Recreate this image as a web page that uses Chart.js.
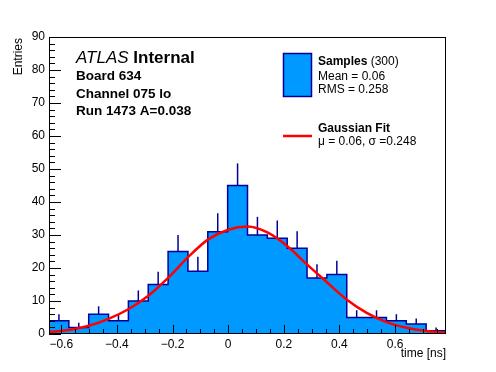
<!DOCTYPE html>
<html>
<head>
<meta charset="utf-8">
<script src="https://cdn.jsdelivr.net/npm/chart.js@4.4.1/dist/chart.umd.min.js"></script>
<style>
  html, body { margin: 0; padding: 0; background: #fff; }
  #wrap { width: 496px; height: 372px; }
</style>
</head>
<body>
<div id="wrap"><canvas id="histo" width="496" height="372"></canvas></div>
<script>
// histogram of the timing residuals, 20 bins
const binLow = -0.644;
const binWidth = 0.07135;
const counts = [4, 2, 6, 4, 10, 15, 25, 19, 31, 45, 30, 29, 26, 17, 18, 5, 5, 4, 3, 1];
const errors = [2, 1.4, 2.4, 2, 3.2, 3.9, 5, 4.4, 5.6, 6.7, 5.5, 5.4, 5.1, 4.1, 4.2, 2.2, 2.2, 2, 1.7, 1];

// gaussian fit curve
const fitX = [-0.644, -0.573, -0.501, -0.430, -0.359, -0.287, -0.216, -0.145, -0.073, 0.0, 0.070,
              0.141, 0.213, 0.284, 0.355, 0.427, 0.498, 0.569, 0.641, 0.712, 0.783];
const fitY = [0.6, 1.2, 2.5, 4.6, 7.5, 11.6, 17.0, 23.2, 28.6, 31.6, 32.6,
              30.8, 26.6, 21.0, 15.7, 10.4, 6.4, 3.6, 1.9, 0.9, 0.4];

const xTicks = [-0.6, -0.4, -0.2, 0, 0.2, 0.4, 0.6];
const yTicks = [0, 10, 20, 30, 40, 50, 60, 70, 80, 90];

const FONT = '"Liberation Sans", Arial, Helvetica, sans-serif';
const fillBlue = '#0099ff';
const lineBlue = '#000099';

const binHigh = binLow + counts.length * binWidth;
const edge = i => binLow + i * binWidth;

// step outline (also filled) of the histogram
const stepPts = [{ x: edge(0), y: 0 }];
counts.forEach((c, i) => stepPts.push({ x: edge(i), y: c }));
stepPts.push({ x: edge(counts.length), y: counts[counts.length - 1] });
stepPts.push({ x: edge(counts.length), y: 0 });

// upward error bars
const errPts = counts.map((c, i) => ({ x: edge(i) + binWidth / 2, y: [c, c + errors[i]] }));

const fitPts = fitX.map((x, i) => ({ x: x, y: fitY[i] }));

const rootFrame = {
    id: 'rootFrame',
    afterDatasetsDraw(chart) {
        const { ctx, chartArea: a, scales: { x, y } } = chart;
        ctx.save();
        ctx.strokeStyle = '#000';
        ctx.lineWidth = 1;
        ctx.beginPath();
        // y ticks, minor every 2, inside the frame
        for (let k = 0; k <= 45; k++) {
            const py = Math.round(y.getPixelForValue(k * 2)) + 0.5;
            const len = k % 5 === 0 ? 12 : 6;
            ctx.moveTo(a.left, py);
            ctx.lineTo(a.left + len, py);
        }
        // x ticks, minor every 0.05
        for (let k = -13; k <= 16; k++) {
            const v = k * 0.05;
            if (v < binLow || v > binHigh) continue;
            const px = Math.round(x.getPixelForValue(v)) + 0.5;
            const len = k % 4 === 0 ? 9 : 5;
            ctx.moveTo(px, a.bottom);
            ctx.lineTo(px, a.bottom - len);
        }
        ctx.stroke();
        ctx.strokeRect(a.left + 0.5, a.top + 0.5, a.right - a.left - 1, a.bottom - a.top - 1);
        ctx.restore();
    },
    afterDraw(chart) {
        const { ctx } = chart;
        ctx.save();
        ctx.fillStyle = '#000';
        ctx.textBaseline = 'alphabetic';

        // axis titles
        ctx.font = '12px ' + FONT;
        ctx.textAlign = 'right';
        ctx.fillText('time [ns]', 446, 357);
        ctx.save();
        ctx.translate(22, 38);
        ctx.rotate(-Math.PI / 2);
        ctx.fillText('Entries', 0, 0);
        ctx.restore();

        // ATLAS label block
        ctx.textAlign = 'left';
        ctx.font = 'italic 17px ' + FONT;
        ctx.fillText('ATLAS', 76, 63);
        const w = ctx.measureText('ATLAS ').width;
        ctx.font = 'bold 17px ' + FONT;
        ctx.fillText('Internal', 76 + w, 63);
        ctx.font = 'bold 13.5px ' + FONT;
        ctx.fillText('Board 634', 76, 80);
        ctx.fillText('Channel 075 lo', 76, 97.5);
        ctx.fillText('Run 1473 A=0.038', 76, 115);

        // legend
        ctx.fillStyle = fillBlue;
        ctx.fillRect(283.5, 53.5, 28, 43);
        ctx.strokeStyle = lineBlue;
        ctx.lineWidth = 1.5;
        ctx.strokeRect(283.5, 53.5, 28, 43);
        ctx.strokeStyle = '#ff0000';
        ctx.lineWidth = 2.5;
        ctx.beginPath();
        ctx.moveTo(283, 136);
        ctx.lineTo(312, 136);
        ctx.stroke();

        ctx.fillStyle = '#000';
        ctx.font = 'bold 12px ' + FONT;
        ctx.fillText('Samples', 318, 65);
        const ws = ctx.measureText('Samples').width;
        ctx.font = '12px ' + FONT;
        ctx.fillText(' (300)', 318 + ws, 65);
        ctx.fillText('Mean = 0.06', 318, 80);
        ctx.fillText('RMS = 0.258', 318, 93);
        ctx.font = 'bold 12px ' + FONT;
        ctx.fillText('Gaussian Fit', 318, 132);
        ctx.font = '12px ' + FONT;
        ctx.fillText('\u03bc = 0.06, \u03c3 =0.248', 318, 145);
        ctx.restore();
    }
};

new Chart(document.getElementById('histo'), {
    type: 'line',
    data: {
        datasets: [
            {
                type: 'line',
                data: stepPts,
                stepped: 'before',
                fill: 'origin',
                backgroundColor: fillBlue,
                borderColor: lineBlue,
                borderWidth: 1.5,
                pointRadius: 0,
                order: 3
            },
            {
                type: 'bar',
                data: errPts,
                grouped: false,
                maxBarThickness: 1.5,
                backgroundColor: lineBlue,
                borderWidth: 0,
                order: 2
            },
            {
                type: 'line',
                data: fitPts,
                cubicInterpolationMode: 'monotone',
                borderColor: '#ff0000',
                borderWidth: 2.5,
                pointRadius: 0,
                fill: false,
                order: 1
            }
        ]
    },
    options: {
        responsive: false,
        animation: false,
        devicePixelRatio: 1,
        layout: { padding: { left: 0, top: 37, right: 50, bottom: 0 } },
        plugins: {
            legend: { display: false },
            tooltip: { enabled: false }
        },
        scales: {
            x: {
                type: 'linear',
                min: binLow,
                max: binHigh,
                offset: false,
                grid: { display: false, drawTicks: false },
                border: { display: false },
                afterBuildTicks: s => { s.ticks = xTicks.map(v => ({ value: v })); },
                afterFit: s => { s.height = 38; },
                ticks: {
                    padding: 3,
                    color: '#000',
                    maxRotation: 0,
                    autoSkip: false,
                    font: { family: FONT, size: 12 },
                    callback: v => (v < 0 ? '\u2212' + Math.abs(v) : String(v))
                }
            },
            y: {
                type: 'linear',
                min: 0,
                max: 90,
                grid: { display: false, drawTicks: false },
                border: { display: false },
                afterBuildTicks: s => { s.ticks = yTicks.map(v => ({ value: v })); },
                afterFit: s => { s.width = 49; },
                ticks: {
                    padding: 4,
                    color: '#000',
                    font: { family: FONT, size: 12 },
                    callback: v => String(v)
                }
            }
        }
    },
    plugins: [rootFrame]
});
</script>
</body>
</html>
